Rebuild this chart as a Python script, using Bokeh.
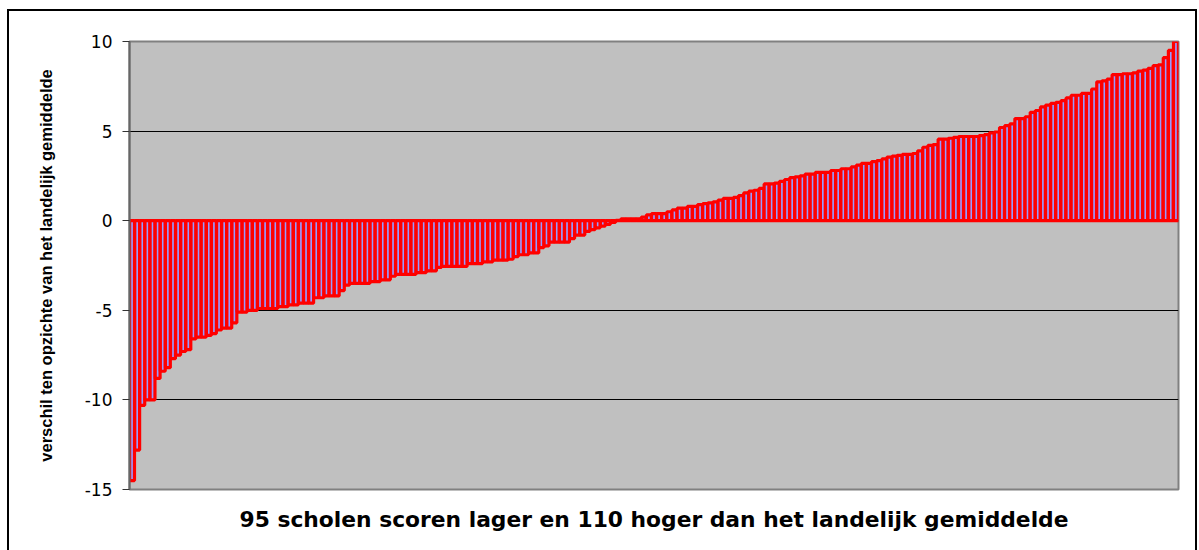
from bokeh.plotting import figure
from bokeh.models import Range1d, FixedTicker, ColumnDataSource, InlineStyleSheet
from bokeh.embed import file_html
from bokeh.resources import INLINE

# sorted differences of 205 schools from the national average
lager = [-14.5, -12.8, -10.3, -10.0, -10.0, -8.8, -8.4, -8.2, -7.7, -7.5,
         -7.3, -7.2, -6.6, -6.5, -6.5, -6.4, -6.3, -6.1, -6.0, -6.0,
         -5.7, -5.1, -5.1, -5.0, -5.0, -4.9, -4.9, -4.9, -4.9, -4.8,
         -4.8, -4.7, -4.7, -4.6, -4.6, -4.6, -4.3, -4.3, -4.2, -4.2,
         -4.2, -3.9, -3.6, -3.5, -3.5, -3.5, -3.5, -3.4, -3.4, -3.3,
         -3.3, -3.1, -3.0, -3.0, -3.0, -3.0, -2.9, -2.9, -2.8, -2.8,
         -2.6, -2.55, -2.55, -2.55, -2.55, -2.55, -2.4, -2.4, -2.4, -2.3,
         -2.3, -2.2, -2.2, -2.2, -2.15, -2.0, -1.9, -1.9, -1.8, -1.8,
         -1.5, -1.4, -1.2, -1.2, -1.2, -1.2, -1.0, -0.8, -0.8, -0.6,
         -0.5, -0.4, -0.3, -0.2, -0.1]
hoger = [0.02, 0.1, 0.1, 0.1, 0.1, 0.2, 0.33, 0.4, 0.4, 0.4,
         0.5, 0.6, 0.7, 0.7, 0.8, 0.8, 0.9, 0.95, 1.0, 1.05,
         1.15, 1.25, 1.25, 1.3, 1.4, 1.55, 1.65, 1.7, 1.8, 2.05,
         2.05, 2.1, 2.2, 2.3, 2.4, 2.45, 2.5, 2.6, 2.6, 2.7,
         2.7, 2.7, 2.8, 2.8, 2.9, 2.9, 3.0, 3.1, 3.2, 3.2,
         3.3, 3.35, 3.45, 3.55, 3.6, 3.65, 3.7, 3.7, 3.75, 3.9,
         4.1, 4.2, 4.25, 4.55, 4.55, 4.6, 4.65, 4.7, 4.7, 4.7,
         4.7, 4.75, 4.8, 4.9, 4.95, 5.2, 5.3, 5.4, 5.7, 5.7,
         5.8, 6.05, 6.15, 6.35, 6.45, 6.55, 6.6, 6.7, 6.85, 7.0,
         7.0, 7.1, 7.1, 7.35, 7.75, 7.8, 7.9, 8.15, 8.15, 8.2,
         8.2, 8.25, 8.35, 8.4, 8.5, 8.65, 8.7, 9.1, 9.5, 10.05]
y_ticks = [-15, -10, -5, 0, 5, 10]
y_tick_labels = ["-15", "-10", "-5", "0", "5", "10"]
y_title = "verschil ten opzichte van het landelijk gemiddelde"
x_title = "95 scholen scoren lager en 110 hoger dan het landelijk gemiddelde"

values = lager + hoger
n = len(values)
src = ColumnDataSource(dict(x=list(range(n)), top=values))

p = figure(width=1197, height=548, output_backend="svg", toolbar_location=None,
           x_range=Range1d(-0.5, n - 0.5), y_range=Range1d(-15, 10),
           min_border_left=129, min_border_right=19, min_border_top=41,
           min_border_bottom=59)
p.background_fill_color = "#C0C0C0"
p.border_fill_color = "white"
p.outline_line_color = "#808080"
p.outline_line_width = 2

p.vbar(x="x", top="top", bottom=0, width=0.95, source=src,
       fill_color="#9999FF", line_color="#FF0000", line_width=3.2)

p.xgrid.visible = False
p.ygrid.ticker = FixedTicker(ticks=y_ticks)
p.ygrid.grid_line_color = "black"
p.ygrid.grid_line_width = 1

# x axis: only its title
xa = p.xaxis[0]
xa.ticker = FixedTicker(ticks=[])
xa.axis_line_color = None
xa.major_tick_line_color = None
xa.minor_tick_line_color = None
xa.major_tick_out = 0
xa.major_tick_in = 0
xa.major_label_standoff = 0
xa.axis_label = x_title
xa.axis_label_standoff = 17
xa.axis_label_text_font = "DejaVu Sans"
xa.axis_label_text_font_style = "bold"
xa.axis_label_text_font_size = "21.8px"
xa.axis_label_text_color = "black"

ya = p.yaxis[0]
ya.ticker = FixedTicker(ticks=y_ticks)
ya.major_label_overrides = dict(zip(y_ticks, y_tick_labels))
ya.axis_line_color = "#666666"
ya.axis_line_width = 2
ya.major_tick_line_color = "#333333"
ya.major_tick_out = 7
ya.major_tick_in = 0
ya.minor_tick_line_color = None
ya.major_label_standoff = 10
ya.major_label_text_font = "DejaVu Sans"
ya.major_label_text_font_size = "17px"
ya.major_label_text_color = "black"
ya.axis_label = y_title
ya.axis_label_standoff = 27
ya.axis_label_text_font = "Liberation Sans"
ya.axis_label_text_font_style = "bold"
ya.axis_label_text_font_size = "16.5px"
ya.axis_label_text_color = "black"

# outer chart frame (open at the bottom, as in the cropped reference)
p.stylesheets = [InlineStyleSheet(css="""
:host::after {
  content: "";
  position: absolute;
  left: 7px; top: 9px; width: 1186px; bottom: -20px;
  border: 2px solid black;
  pointer-events: none;
}
""")]

open("out.html", "w").write(file_html(p, INLINE))
